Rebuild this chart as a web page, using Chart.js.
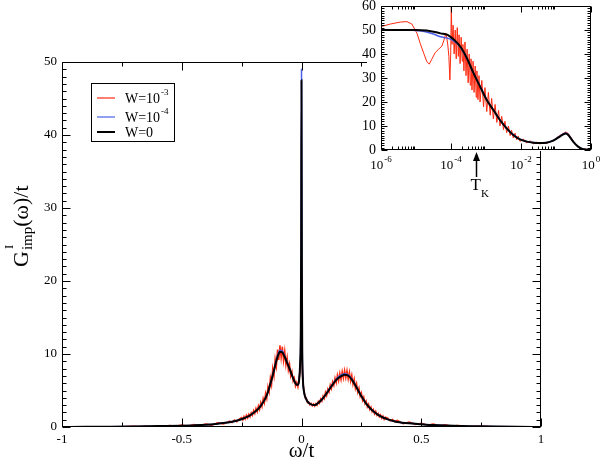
<!DOCTYPE html>
<html>
<head>
<meta charset="utf-8">
<script src="https://cdn.jsdelivr.net/npm/chart.js@4.4.1/dist/chart.umd.min.js"></script>
<style>
  body { margin: 0; background: #fff; }
  #wrap { position: relative; width: 600px; height: 464px; }
  #main { position: absolute; left: 0; top: 0; }
  #inset { position: absolute; left: 340px; top: 0; }
</style>
</head>
<body>
<div id="wrap">
  <canvas id="main" width="600" height="464"></canvas>
  <canvas id="inset" width="260" height="200"></canvas>
</div>
<script>
// ------------------------------------
// DATA : main panel (omega/t vs G/t)
// ------------------------------------
const mainX = [-1, -0.9, -0.8, -0.7, -0.6, -0.5, -0.45, -0.4, -0.35, -0.3,
  -0.28, -0.26, -0.24, -0.22, -0.2, -0.18, -0.16, -0.15, -0.14, -0.13,
  -0.12, -0.11, -0.1, -0.09, -0.08, -0.07, -0.06, -0.05, -0.04, -0.03,
  -0.02, -0.015, -0.01, -0.006, -0.003, -0.0015, 0, 0.0015, 0.003, 0.006,
  0.01, 0.02, 0.03, 0.04, 0.05, 0.06, 0.07, 0.08, 0.09, 0.1,
  0.11, 0.12, 0.13, 0.14, 0.15, 0.16, 0.17, 0.18, 0.19, 0.2,
  0.21, 0.22, 0.23, 0.24, 0.25, 0.26, 0.27, 0.28, 0.29, 0.3,
  0.32, 0.34, 0.36, 0.38, 0.4, 0.45, 0.5, 0.55, 0.6, 0.7,
  0.8, 0.9, 1];
const mainW0 = [0.01, 0.02, 0.04, 0.07, 0.12, 0.17, 0.22, 0.3, 0.45, 0.65,
  0.78, 0.95, 1.2, 1.5, 1.95, 2.5, 3.4, 4.0, 4.8, 5.9,
  7.1, 8.4, 9.6, 10.3, 10.2, 9.6, 8.8, 8.0, 7.1, 6.3,
  5.8, 5.8, 6.4, 8.5, 13, 24, 47.5, 22, 11, 6.5,
  4.9, 3.8, 3.3, 3.1, 3.0, 3.05, 3.3, 3.6, 3.95, 4.4,
  4.85, 5.35, 5.8, 6.25, 6.6, 6.85, 7.05, 7.15, 7.1, 6.9,
  6.5, 6.0, 5.4, 4.8, 4.2, 3.7, 3.2, 2.8, 2.45, 2.15,
  1.65, 1.3, 1.05, 0.85, 0.7, 0.5, 0.38, 0.27, 0.2, 0.11,
  0.06, 0.03, 0.01];
const mainW4 = [0.01, 0.02, 0.04, 0.07, 0.12, 0.17, 0.22, 0.3, 0.45, 0.65,
  0.78, 0.95, 1.2, 1.5, 1.95, 2.5, 3.4, 4.0, 4.8, 5.9,
  7.15, 8.5, 9.75, 10.5, 10.4, 9.7, 8.9, 8.0, 7.1, 6.3,
  5.8, 5.8, 6.4, 8.6, 13.5, 25, 49, 23, 11.5, 6.6,
  4.9, 3.8, 3.3, 3.1, 3.0, 3.05, 3.3, 3.6, 3.95, 4.4,
  4.9, 5.4, 5.85, 6.35, 6.75, 7.0, 7.2, 7.3, 7.25, 7.0,
  6.6, 6.05, 5.45, 4.85, 4.25, 3.7, 3.2, 2.8, 2.45, 2.15,
  1.65, 1.3, 1.05, 0.85, 0.7, 0.5, 0.38, 0.27, 0.2, 0.11,
  0.06, 0.03, 0.01];
const mainW3X = [-1, -0.9, -0.8, -0.75, -0.7, -0.675, -0.65, -0.625, -0.6, -0.575,
  -0.55, -0.525, -0.5, -0.475, -0.45, -0.425, -0.4, -0.375, -0.35, -0.325,
  -0.3, -0.29, -0.28, -0.27, -0.26,
  -0.25, -0.245, -0.24, -0.235, -0.23, -0.225, -0.22, -0.215, -0.21, -0.205,
  -0.2, -0.195, -0.19, -0.185, -0.18, -0.175, -0.17, -0.165, -0.16, -0.155,
  -0.15, -0.145, -0.14, -0.135, -0.13, -0.125, -0.12, -0.115, -0.11, -0.105,
  -0.1, -0.095, -0.09, -0.085, -0.08, -0.075, -0.07, -0.065, -0.06, -0.055,
  -0.05, -0.045, -0.04, -0.035, -0.03, -0.025, -0.02, -0.015, -0.01, -0.005,
  0, 0.005, 0.01, 0.015, 0.02, 0.025, 0.03, 0.035, 0.04, 0.045,
  0.05, 0.055, 0.06, 0.065, 0.07, 0.075, 0.08, 0.085, 0.09, 0.095,
  0.1, 0.105, 0.11, 0.115, 0.12, 0.125, 0.13, 0.135, 0.14, 0.145,
  0.15, 0.155, 0.16, 0.165, 0.17, 0.175, 0.18, 0.185, 0.19, 0.195,
  0.2, 0.205, 0.21, 0.215, 0.22, 0.225, 0.23, 0.235, 0.24, 0.245,
  0.25, 0.255, 0.26, 0.265, 0.27, 0.275, 0.28, 0.285, 0.29, 0.295,
  0.3, 0.305, 0.31, 0.315, 0.32, 0.325, 0.33, 0.335, 0.34, 0.345,
  0.35, 0.36, 0.37, 0.38, 0.39, 0.4, 0.425, 0.45, 0.475, 0.5,
  0.525, 0.55, 0.575, 0.6, 0.625, 0.65, 0.7, 0.75, 0.8, 0.9, 1];
const mainW3 = [0.01, 0.02, 0.05, 0.03, 0.1, 0.04, 0.13, 0.06, 0.18, 0.08,
  0.22, 0.1, 0.28, 0.12, 0.34, 0.18, 0.42, 0.26, 0.58, 0.4,
  0.8, 0.6, 0.95, 0.72, 1.1,
  1.3, 0.95, 1.45, 1.1, 1.6, 1.25, 1.75, 1.4, 1.95, 1.6,
  2.25, 1.85, 2.55, 2.1, 2.9, 2.4, 3.35, 2.8, 3.9, 3.3,
  4.6, 3.9, 5.5, 4.8, 6.7, 5.8, 8.0, 7.0, 9.3, 8.3,
  10.6, 9.2, 11.2, 9.5, 11.0, 9.1, 10.4, 8.5, 9.5, 7.8,
  8.6, 7.0, 7.6, 6.3, 6.7, 5.6, 6.1, 5.5, 6.6, 8.0,
  13, 6.4, 5.1, 4.0, 3.95, 3.35, 3.45, 3.05, 3.25, 2.9,
  3.15, 2.85, 3.2, 3.0, 3.5, 3.25, 3.85, 3.55, 4.25, 3.9,
  4.75, 4.3, 5.2, 4.8, 5.75, 5.25, 6.2, 5.7, 6.7, 6.05,
  7.1, 6.35, 7.35, 6.5, 7.6, 6.7, 7.75, 6.75, 7.7, 6.6,
  7.5, 6.3, 7.1, 5.85, 6.55, 5.3, 5.95, 4.75, 5.3, 4.2,
  4.65, 3.65, 4.1, 3.2, 3.55, 2.75, 3.1, 2.4, 2.75, 2.1,
  2.4, 1.8, 2.15, 1.6, 1.85, 1.4, 1.65, 1.2, 1.5, 1.05,
  1.35, 1.2, 0.85, 1.05, 0.72, 0.9, 0.45, 0.68, 0.35, 0.52,
  0.24, 0.4, 0.16, 0.3, 0.1, 0.2, 0.08, 0.12, 0.04, 0.03, 0.01];

const mainXMajor = [-1, -0.5, 0, 0.5, 1];
const mainXMinor = [-0.75, -0.25, 0.25, 0.75];
const mainYMajor = [0, 10, 20, 30, 40, 50];

// ------------------------------------
// DATA : inset (log omega)
// ------------------------------------
const insetX = [1e-6, 3.16e-6, 1e-5, 2e-5, 3.16e-5, 5e-5, 8e-5, 1.2e-4, 1.86e-4, 2.9e-4,
  4.4e-4, 6.8e-4, 1.05e-3, 1.62e-3, 2.5e-3, 3.9e-3, 6e-3, 9.3e-3, 1.45e-2, 2.24e-2,
  3.47e-2, 5.37e-2, 8.3e-2, 0.129, 0.162, 0.19, 0.224, 0.309, 0.427, 0.6, 1];
const insetW0 = [50, 50, 50, 49.8, 49.3, 48.6, 48, 46, 43, 38,
  32, 26.4, 20.8, 16.7, 12.5, 9, 6.25, 4.4, 3.5, 3.05,
  2.9, 3.05, 3.9, 5.6, 6.5, 6.9, 6.25, 3.5, 1.4, 0.3, 0];
const insetW4 = [50, 50, 49.8, 49.2, 48.3, 47.2, 46.6, 45.5, 42.8, 37.8,
  32, 26.5, 20.9, 16.8, 12.6, 9.1, 6.4, 4.5, 3.6, 3.1,
  3.0, 3.1, 4.0, 5.8, 6.7, 7.1, 6.4, 3.6, 1.45, 0.3, 0];
const insetW3X = [1e-6, 1.86e-6, 3.55e-6, 5.5e-6, 7.6e-6, 1.07e-5, 1.32e-5, 1.66e-5, 2.04e-5, 2.4e-5,
  2.82e-5, 3.55e-5, 4.37e-5, 5.5e-5, 6.3e-5, 7.1e-5, 7.6e-5, 8.1e-5, 8.7e-5, 9.3e-5,
  9.8e-5, 1.02e-4, 1.07e-4, 1.15e-4, 1.23e-4, 1.32e-4, 1.41e-4, 1.51e-4, 1.62e-4, 1.7e-4,
  1.82e-4, 1.95e-4, 2.09e-4, 2.19e-4, 2.34e-4, 2.51e-4, 2.69e-4, 2.88e-4, 3.09e-4, 3.31e-4,
  3.55e-4, 3.72e-4, 3.98e-4, 4.27e-4, 4.57e-4, 4.9e-4, 5.25e-4, 5.5e-4, 5.89e-4, 6.31e-4,
  6.76e-4, 7.59e-4, 8.51e-4, 9.33e-4, 1.05e-3, 1.17e-3, 1.32e-3, 1.45e-3, 1.62e-3, 1.82e-3,
  2.04e-3, 2.29e-3, 2.51e-3, 2.82e-3, 3.16e-3, 3.47e-3, 3.89e-3, 4.37e-3, 4.9e-3, 5.37e-3,
  6.03e-3, 6.76e-3, 7.59e-3, 8.32e-3, 9.33e-3, 1.17e-2, 1.45e-2, 1.82e-2, 2.24e-2, 2.82e-2,
  3.47e-2, 4.27e-2, 5.37e-2, 6.61e-2, 8.32e-2, 0.102, 0.129, 0.162, 0.19, 0.224,
  0.282, 0.347, 0.49, 1];
const insetW3 = [51.4, 52.5, 53.3, 53.5, 52.5, 48.6, 44.4, 40.3, 36.8, 35.8,
  37.8, 40.6, 41.9, 43.3, 45.8, 48.6, 46.5, 43.8, 38.9, 29.2,
  40, 59.7, 44, 52, 40, 50, 38, 51, 39, 48,
  36, 47, 37, 44, 33, 45, 31, 42, 28, 40,
  27, 38, 25, 37, 24, 35, 22, 33, 21, 31,
  20, 29, 18, 26, 16, 24, 14.5, 21.5, 13, 19,
  11.5, 16.5, 10, 14, 8.5, 12, 7.2, 10, 6.0, 8.3,
  5.0, 7.0, 4.3, 5.8, 3.6, 4.6, 3.0, 3.8, 2.6, 3.3,
  2.5, 3.2, 2.7, 3.5, 3.8, 5.0, 6.1, 6.9, 7.5, 6.9,
  4.7, 2.6, 0.7, 0];

const insetXTicks = [1e-6, 1e-4, 1e-2, 1];
const insetXTickExp = ["-6", "-4", "-2", "0"];
const insetYMajor = [0, 10, 20, 30, 40, 50, 60];
const tkValue = 5.2e-4;

// ------------------------------------
// STYLE
// ------------------------------------
const SERIF = '"Liberation Serif", "Times New Roman", serif';
const RED = "#ff2a10";
const BLUE = "#4a5ee8";
const BLACK = "#000000";

const pts = (xs, ys) => xs.map((x, i) => ({ x: x, y: ys[i] }));

// frame + inward ticks on all four sides
function drawFrame(chart, xMaj, xMin, yMaj, yMin, majLen, minLen) {
  const ctx = chart.ctx, a = chart.chartArea;
  const xs = chart.scales.x, ys = chart.scales.y;
  const L = Math.round(a.left) + 0.5, R = Math.round(a.right) - 0.5;
  const T = Math.round(a.top) + 0.5, B = Math.round(a.bottom) - 0.5;
  ctx.save();
  ctx.strokeStyle = "#000";
  ctx.lineWidth = 1;
  ctx.beginPath();
  const vt = (v, len) => {
    const p = Math.round(xs.getPixelForValue(v)) + 0.5;
    ctx.moveTo(p, B); ctx.lineTo(p, B - len);
    ctx.moveTo(p, T); ctx.lineTo(p, T + len);
  };
  const ht = (v, len) => {
    const p = Math.round(ys.getPixelForValue(v)) + 0.5;
    ctx.moveTo(L, p); ctx.lineTo(L + len, p);
    ctx.moveTo(R, p); ctx.lineTo(R - len, p);
  };
  xMaj.forEach(v => vt(v, majLen));
  xMin.forEach(v => vt(v, minLen));
  yMaj.forEach(v => ht(v, majLen));
  yMin.forEach(v => ht(v, minLen));
  ctx.rect(L, T, R - L, B - T);
  ctx.stroke();
  ctx.restore();
}

// minor y ticks every unit
const mainYMinor = [];
for (let v = 1; v < 50; v++) if (v % 10) mainYMinor.push(v);
const insetYMinor = [];
for (let v = 1; v < 60; v++) if (v % 10) insetYMinor.push(v);
const insetXMinor = [];
[-6, -4, -2].forEach(d => { for (let k = 2; k <= 9; k++) insetXMinor.push(k * Math.pow(10, d)); });

// ------------------------------------
// MAIN CHART
// ------------------------------------
const legendItems = [
  { color: RED, text: "W=10", sup: "-3", ly: 98, ty: 103 },
  { color: BLUE, text: "W=10", sup: "-4", ly: 117, ty: 122 },
  { color: BLACK, text: "W=0", sup: "", ly: 132, ty: 136.5 },
];

const mainDeco = {
  id: "mainDeco",
  afterDraw(chart) {
    drawFrame(chart, mainXMajor, mainXMinor, mainYMajor, mainYMinor, 8, 4);
    const ctx = chart.ctx;
    ctx.save();
    // legend box
    ctx.strokeStyle = "#000";
    ctx.lineWidth = 1;
    ctx.strokeRect(91.5, 83.5, 83, 58);
    legendItems.forEach(it => {
      ctx.strokeStyle = it.color;
      ctx.lineWidth = it.color === BLACK ? 2 : 1.2;
      ctx.beginPath();
      ctx.moveTo(97, it.ly); ctx.lineTo(115, it.ly);
      ctx.stroke();
      ctx.fillStyle = "#000";
      ctx.textBaseline = "alphabetic";
      ctx.font = "14px " + SERIF;
      ctx.fillText(it.text, 125, it.ty);
      if (it.sup) {
        const w = ctx.measureText(it.text).width;
        ctx.font = "9px " + SERIF;
        ctx.fillText(it.sup, 125 + w + 1, it.ty - 8);
      }
    });
    // y axis title  G^I_imp(omega)/t
    ctx.translate(28, 267);
    ctx.rotate(-Math.PI / 2);
    ctx.fillStyle = "#000";
    ctx.font = "22px " + SERIF;
    ctx.fillText("G", 0, 0);
    let x = ctx.measureText("G").width + 1;
    ctx.font = "13px " + SERIF;
    ctx.fillText("I", x + 1, -15);
    ctx.font = "15px " + SERIF;
    ctx.fillText("imp", x, 4);
    x += ctx.measureText("imp").width;
    ctx.font = "22px " + SERIF;
    ctx.fillText("(\u03c9)/t", x, 0);
    ctx.restore();
  },
};

new Chart(document.getElementById("main"), {
  type: "scatter",
  data: {
    datasets: [
      { label: "W=10^-3", data: pts(mainW3X, mainW3), borderColor: RED, borderWidth: 1.5,
        showLine: true, pointRadius: 0, order: 3 },
      { label: "W=10^-4", data: pts(mainX, mainW4), borderColor: BLUE, borderWidth: 1.5,
        showLine: true, pointRadius: 0, cubicInterpolationMode: "monotone", order: 2 },
      { label: "W=0", data: pts(mainX, mainW0), borderColor: BLACK, borderWidth: 2,
        showLine: true, pointRadius: 0, cubicInterpolationMode: "monotone", order: 1 },
    ],
  },
  options: {
    responsive: false,
    animation: false,
    devicePixelRatio: 1,
    layout: { padding: { left: 0, right: 59, top: 62, bottom: 0 } },
    plugins: { legend: { display: false }, tooltip: { enabled: false } },
    scales: {
      x: {
        type: "linear", min: -1, max: 1,
        grid: { display: false, drawTicks: false },
        border: { display: false },
        ticks: { stepSize: 0.5, padding: 5, color: "#000", font: { family: SERIF, size: 13 },
                 callback: v => String(v) },
        title: { display: true, text: "\u03c9/t", color: "#000", padding: 0,
                 font: { family: SERIF, size: 21 } },
        afterFit: s => { s.height = 37; },
      },
      y: {
        min: 0, max: 50,
        grid: { display: false, drawTicks: false },
        border: { display: false },
        ticks: { stepSize: 10, padding: 5, color: "#000", font: { family: SERIF, size: 13 } },
        afterFit: s => { s.width = 62; },
      },
    },
  },
  plugins: [mainDeco],
});

// ------------------------------------
// INSET CHART
// ------------------------------------
const insetDeco = {
  id: "insetDeco",
  beforeDraw(chart) {
    const ctx = chart.ctx;
    ctx.save();
    ctx.fillStyle = "#fff";
    ctx.fillRect(27, 0, chart.width - 27, Math.round(chart.chartArea.bottom) + 1);
    ctx.restore();
  },
  afterDraw(chart) {
    drawFrame(chart, insetXTicks, insetXMinor, insetYMajor, insetYMinor, 6, 3);
    const ctx = chart.ctx, xs = chart.scales.x;
    ctx.save();
    ctx.fillStyle = "#000";
    ctx.textBaseline = "alphabetic";
    insetXTicks.forEach((v, i) => {
      ctx.font = "13px " + SERIF;
      const w1 = ctx.measureText("10").width;
      ctx.font = "9px " + SERIF;
      const w2 = ctx.measureText(insetXTickExp[i]).width;
      const p = xs.getPixelForValue(v);
      const x0 = p - (w1 + w2 + 1) / 2;
      ctx.font = "13px " + SERIF;
      ctx.fillText("10", x0, 168.5);
      ctx.font = "9px " + SERIF;
      ctx.fillText(insetXTickExp[i], x0 + w1 + 1, 162);
    });
    // T_K arrow
    const px = Math.round(xs.getPixelForValue(tkValue)) + 0.5;
    ctx.strokeStyle = "#000";
    ctx.lineWidth = 1.5;
    ctx.beginPath();
    ctx.moveTo(px, 159); ctx.lineTo(px, 177);
    ctx.stroke();
    ctx.beginPath();
    ctx.moveTo(px, 152); ctx.lineTo(px - 3.5, 161); ctx.lineTo(px + 3.5, 161);
    ctx.closePath();
    ctx.fill();
    ctx.font = "17px " + SERIF;
    const tw = ctx.measureText("T").width;
    ctx.fillText("T", px - 6, 190);
    ctx.font = "11px " + SERIF;
    ctx.fillText("K", px - 6 + tw, 197);
    ctx.restore();
  },
};

new Chart(document.getElementById("inset"), {
  type: "scatter",
  data: {
    datasets: [
      { label: "W=10^-3", data: pts(insetW3X, insetW3), borderColor: RED, borderWidth: 1,
        showLine: true, pointRadius: 0, order: 3 },
      { label: "W=10^-4", data: pts(insetX, insetW4), borderColor: BLUE, borderWidth: 1.5,
        showLine: true, pointRadius: 0, cubicInterpolationMode: "monotone", order: 2 },
      { label: "W=0", data: pts(insetX, insetW0), borderColor: BLACK, borderWidth: 2,
        showLine: true, pointRadius: 0, cubicInterpolationMode: "monotone", order: 1 },
    ],
  },
  options: {
    responsive: false,
    animation: false,
    devicePixelRatio: 1,
    layout: { padding: { left: 0, right: 9, top: 6, bottom: 0 } },
    plugins: { legend: { display: false }, tooltip: { enabled: false } },
    scales: {
      x: {
        type: "logarithmic", min: 1e-6, max: 1,
        grid: { display: false, drawTicks: false },
        border: { display: false },
        ticks: { display: false },
        afterFit: s => { s.height = 50; s.paddingLeft = 0; s.paddingRight = 0; },
      },
      y: {
        min: 0, max: 60,
        grid: { display: false, drawTicks: false },
        border: { display: false },
        ticks: { stepSize: 10, padding: 5, color: "#000", font: { family: SERIF, size: 14 } },
        afterFit: s => { s.width = 41; s.paddingTop = 0; s.paddingBottom = 0; },
      },
    },
  },
  plugins: [insetDeco],
});
</script>
</body>
</html>
